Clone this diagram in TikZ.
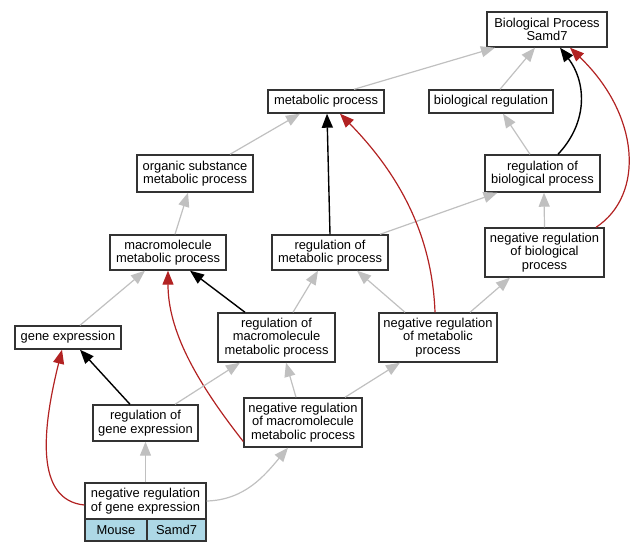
\documentclass[tikz,border=0pt]{standalone}
\usepackage{fontspec}
\setmainfont{Liberation Sans}
\usetikzlibrary{arrows.meta}
\definecolor{edgegray}{HTML}{C0C0C0}
\definecolor{edgered}{HTML}{B22222}
\definecolor{boxline}{HTML}{333333}
\definecolor{cellblue}{HTML}{ADD8E6}
\begin{document}
\begin{tikzpicture}[x=1pt,y=-1pt,
  box/.style={draw=boxline,line width=1.4pt,fill=white,rectangle,inner sep=0pt,align=center,
    font=\fontsize{12.9}{13.6}\selectfont},
  isa/.style={draw=edgegray,line width=1.2pt,-{Triangle[length=14pt,width=11pt]}},
  reg/.style={draw=black,line width=1.4pt,-{Triangle[length=14pt,width=11pt]}},
  negreg/.style={draw=edgered,line width=1.2pt,-{Triangle[length=14pt,width=11pt]}}]
\useasboundingbox (0,0) rectangle (640,552);
\node[box,minimum width=120pt,minimum height=35pt] (bp) at (547,29.5) {Biological Process\\Samd7};
\node[box,minimum width=116pt,minimum height=23pt] (met) at (326,101.5) {metabolic process};
\node[box,minimum width=124pt,minimum height=23pt] (bioreg) at (491,101.5) {biological regulation};
\node[box,minimum width=116pt,minimum height=37pt] (org) at (195,173.5) {organic substance\\metabolic process};
\node[box,minimum width=115pt,minimum height=37pt] (rbp) at (542.5,173.5) {regulation of\\biological process};
\node[box,minimum width=116pt,minimum height=35pt] (mac) at (168,252.5) {macromolecule\\metabolic process};
\node[box,minimum width=116pt,minimum height=35pt] (rmet) at (330,252.5) {regulation of\\metabolic process};
\node[box,minimum width=119pt,minimum height=49pt] (nrbp) at (544.5,252.5) {negative regulation\\of biological\\process};
\node[box,minimum width=106pt,minimum height=23pt] (ge) at (68,337.5) {gene expression};
\node[box,minimum width=117pt,minimum height=49pt] (rmac) at (276.5,337.5) {regulation of\\macromolecule\\metabolic process};
\node[box,minimum width=118pt,minimum height=49pt] (nrmet) at (438,337.5) {negative regulation\\of metabolic\\process};
\node[box,minimum width=105pt,minimum height=36pt] (rge) at (145.5,423) {regulation of\\gene expression};
\node[box,minimum width=118pt,minimum height=49pt] (nrmac) at (303,422.5) {negative regulation\\of macromolecule\\metabolic process};
\node[box,minimum width=121pt,minimum height=36pt] (nrge) at (145.5,501) {negative regulation\\of gene expression};
\node[box,fill=cellblue,minimum width=62pt,minimum height=22pt] (mouse) at (116,530) {Mouse};
\node[box,fill=cellblue,minimum width=59pt,minimum height=22pt] (samd) at (176.5,530) {Samd7};

\draw[isa] ([xshift=28pt]met.north) -- ([xshift=-52pt]bp.south);
\draw[isa] ([xshift=9pt]bioreg.north) -- ([xshift=-12pt]bp.south);
\draw[reg] ([xshift=15.5pt]rbp.north) .. controls (590,120) and (585,80) .. ([xshift=13pt]bp.south);
\draw[negreg] ([xshift=51.5pt]nrbp.north) .. controls (645,195) and (640,115) .. ([xshift=23pt]bp.south);
\draw[isa] ([xshift=-12.5pt]rbp.north) -- ([xshift=12pt]bioreg.south);
\draw[isa] (nrbp.north) -- ([xshift=1.5pt]rbp.south);
\draw[isa] ([xshift=50pt]rmet.north) -- ([xshift=-45pt]rbp.south);
\draw[isa] ([xshift=35pt]org.north) -- ([xshift=-26pt]met.south);
\draw[reg] (rmet.north) -- ([xshift=1pt]met.south);
\draw[negreg] ([xshift=-3pt]nrmet.north) .. controls (432,230) and (395,170) .. ([xshift=14pt]met.south);
\draw[isa] ([xshift=7pt]mac.north) -- ([xshift=-7pt]org.south);
\draw[isa] ([xshift=12pt]ge.north) -- ([xshift=-23pt]mac.south);
\draw[reg] ([xshift=-31.5pt]rmac.north) -- ([xshift=22pt]mac.south);
\draw[negreg] ([yshift=-19pt]nrmac.west) .. controls (195,380) and (168,330) .. (mac.south);
\draw[isa] ([xshift=16.5pt]rmac.north) -- ([xshift=-12pt]rmet.south);
\draw[isa] ([xshift=-33pt]nrmet.north) -- ([xshift=27pt]rmet.south);
\draw[isa] ([xshift=32pt]nrmet.north) -- ([xshift=-34.5pt]nrbp.south);
\draw[reg] ([xshift=-15.5pt]rge.north) -- ([xshift=12pt]ge.south);
\draw[negreg] ([yshift=-4pt]nrge.west) .. controls (35,500) and (42,430) .. ([xshift=-6pt]ge.south);
\draw[isa] ([xshift=29.5pt]rge.north) -- ([xshift=-36.5pt]rmac.south);
\draw[isa] ([xshift=-7pt]nrmac.north) -- ([xshift=9.5pt]rmac.south);
\draw[isa] ([xshift=42pt]nrmac.north) -- ([xshift=-38pt]nrmet.south);
\draw[isa] (nrge.north) -- (rge.south);
\draw[isa] (nrge.east) .. controls (245,500) and (265,475) .. ([xshift=-15pt]nrmac.south);
\end{tikzpicture}
\end{document}
